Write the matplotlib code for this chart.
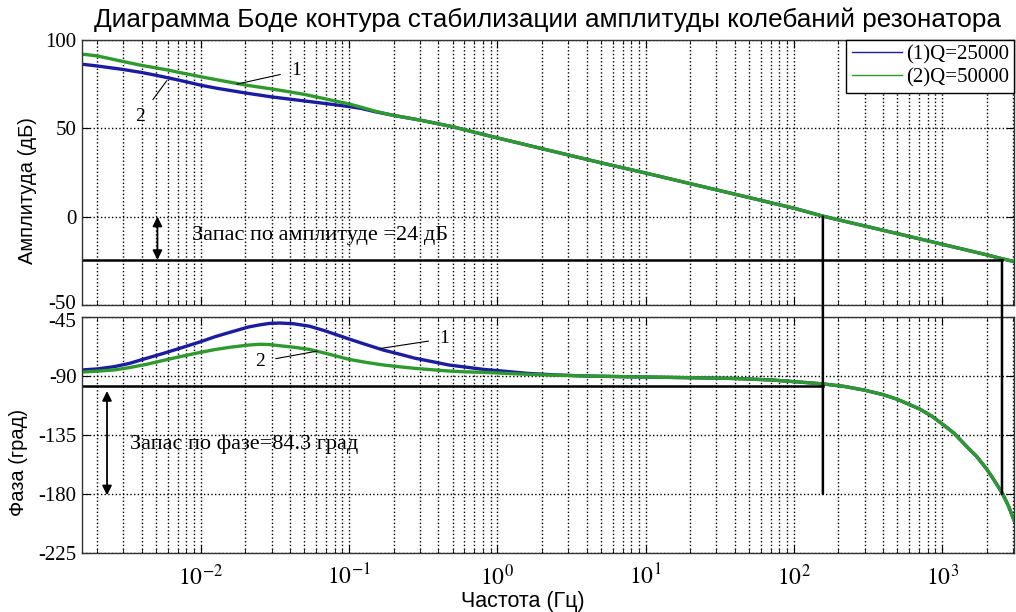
import matplotlib
matplotlib.use("Agg")
import matplotlib.pyplot as plt
from matplotlib.patches import ConnectionPatch
from matplotlib.ticker import LogLocator, FixedLocator, NullFormatter
from matplotlib.transforms import ScaledTranslation

# ---------------- data ----------------
freq_mag = [1.58e-3, 2e-3, 3e-3, 4e-3, 5e-3, 6e-3, 7e-3, 8.5e-3, 1e-2, 1.3e-2,
            1.7e-2, 2e-2, 3e-2, 4e-2, 5e-2, 7e-2, 0.1, 0.12, 0.15, 0.2, 0.3,
            0.5, 0.7, 1, 2, 5, 10, 20, 50, 100, 157, 200, 500, 1000, 2000,
            2535, 3055]
mag_q25 = [86.3, 85.3, 83.3, 81.6, 80.0, 78.6, 77.4, 75.8, 74.4, 72.6,
           71.0, 70.0, 67.8, 66.5, 65.5, 64.0, 62.3, 61.3, 59.4, 57.3, 54.7,
           50.9, 47.8, 44.6, 38.5, 30.5, 24.7, 18.7, 10.8, 4.8, 0.3, -1.8,
           -9.6, -15.6, -21.6, -23.8, -25.4]
mag_q50 = [92.0, 91.0, 87.8, 85.6, 84.2, 83.0, 81.8, 80.4, 79.2, 77.4,
           75.6, 74.5, 72.3, 70.6, 69.2, 66.6, 63.8, 62.0, 59.7, 57.3, 54.7,
           50.9, 47.8, 44.6, 38.5, 30.5, 24.7, 18.7, 10.8, 4.8, 0.3, -1.8,
           -9.6, -15.6, -21.6, -23.8, -25.4]

freq_ph = [1.58e-3, 2e-3, 2.6e-3, 3.3e-3, 4.3e-3, 5.5e-3, 7.2e-3, 1e-2, 1.25e-2,
           1.57e-2, 2.1e-2, 2.5e-2, 2.9e-2, 3.4e-2, 4.2e-2, 5.4e-2, 7e-2, 0.1,
           0.13, 0.17, 0.22, 0.28, 0.37, 0.47, 0.6, 0.8, 1.1, 1.6, 2.5, 4, 7,
           10, 20, 40, 70, 100, 157, 220, 300, 400, 500, 700, 850, 1000, 1200,
           1500, 1700, 2000, 2200, 2535, 2800, 3055]
ph_q25 = [-85.4, -84.6, -82.9, -80.4, -76.5, -73.0, -68.9, -63.8, -60.0,
          -56.7, -52.6, -51.0, -49.9, -49.6, -50.1, -52.0, -55.8, -61.8,
          -66.0, -70.2, -73.4, -76.5, -79.2, -81.6, -83.1, -84.9, -86.3,
          -88.0, -89.2, -90.0, -90.5, -90.8, -91.3, -91.9, -93.0, -94.3,
          -96.0, -98.0, -100.8, -104.2, -107.8, -115.0, -120.5, -126.5,
          -133.5, -145.0, -151.0, -161.0, -168.0, -179.0, -189.0, -200.0]
ph_q50 = [-87.0, -86.3, -85.4, -83.6, -81.1, -78.3, -75.3, -71.9, -69.8,
          -68.1, -66.4, -65.8, -66.0, -66.9, -68.0, -69.7, -72.8, -77.3,
          -79.6, -81.6, -83.0, -84.2, -85.3, -86.2, -86.8, -87.2, -87.9,
          -88.7, -89.4, -90.0, -90.5, -90.8, -91.3, -91.9, -93.0, -94.3,
          -96.0, -98.0, -100.8, -104.2, -107.8, -115.0, -120.5, -126.5,
          -133.5, -145.0, -151.0, -161.0, -168.0, -179.0, -189.0, -200.0]

series_labels = ["(1)Q=25000", "(2)Q=50000"]
title = "Диаграмма Боде контура стабилизации амплитуды колебаний резонатора"
mag_ticks = [-50, 0, 50, 100]
ph_ticks = [-225, -180, -135, -90, -45]
x_ticks = [1e-2, 1e-1, 1e0, 1e1, 1e2, 1e3]
x_ticklabels = [r"$10^{-2}$", r"$10^{-1}$", r"$10^{0}$", r"$10^{1}$", r"$10^{2}$", r"$10^{3}$"]

# margins
f_gain_cross = 157
f_phase_cross = 2535
gm_level = -24.5
pm_level = -98
phase_floor = -180
gm_text = "Запас по амплитуде =24 дБ"
pm_text = "Запас по фазе=84.3 град"

# ---------------- style ----------------
BLUE = "#1c1ca0"
GREEN = "#2e9a2e"
SERIF = ["Liberation Serif", "DejaVu Serif"]
SANS = ["Liberation Sans", "DejaVu Sans"]
plt.rcParams["mathtext.fontset"] = "stix"
plt.rcParams["axes.unicode_minus"] = False

fig = plt.figure(figsize=(10.16, 6.12), dpi=100)
W, H = 1016, 612
def rect(l, t, r, b):
    return [l / W, 1 - b / H, (r - l) / W, (b - t) / H]

ax1 = fig.add_axes(rect(82, 40, 1014, 305))
ax2 = fig.add_axes(rect(82, 317, 1014, 553))

xmin, xmax = 1.58e-3, 3055

for ax in (ax1, ax2):
    ax.set_xscale("log")
    ax.set_xlim(xmin, xmax)
    ax.xaxis.set_major_locator(FixedLocator(x_ticks))
    ax.xaxis.set_minor_locator(LogLocator(base=10, subs=range(2, 10), numticks=20))
    ax.xaxis.set_minor_formatter(NullFormatter())
    ax.grid(True, which="major", color="black", linestyle=":", linewidth=1.0)
    ax.grid(True, which="minor", axis="x", color="black", linestyle=":", linewidth=1.0)
    ax.tick_params(which="both", direction="in", top=True, right=True,
                   labelsize=15, pad=4)
    ax.tick_params(which="major", length=6)
    ax.tick_params(which="minor", length=3)
    for s in ax.spines.values():
        s.set_color("#333333")
        s.set_linewidth(1.0)

# magnitude
ax1.plot(freq_mag, mag_q25, color=BLUE, lw=2.4, label=series_labels[0])
ax1.plot(freq_mag, mag_q50, color=GREEN, lw=2.4, label=series_labels[1])
ax1.set_ylim(-50, 100)
ax1.set_yticks(mag_ticks)
ax1.set_yticklabels([str(v) for v in mag_ticks])
ax1.set_xticklabels([])

# phase
ax2.plot(freq_ph, ph_q25, color=BLUE, lw=2.4)
ax2.plot(freq_ph, ph_q50, color=GREEN, lw=2.4)
ax2.set_ylim(-225, -45)
ax2.set_yticks(ph_ticks)
ax2.set_yticklabels([str(v) for v in ph_ticks])
ax2.set_xticks(x_ticks)
ax2.set_xticklabels(x_ticklabels)
ax2.tick_params(axis="x", which="major", labelsize=17, pad=8)

for ax in (ax1, ax2):
    for lab in ax.get_yticklabels():
        lab.set_family(SERIF)

# keep the adjoining "-50" and "-45" labels apart a little
lab_m50 = ax1.yaxis.get_major_ticks()[0].label1
lab_m50.set_transform(lab_m50.get_transform() + ScaledTranslation(0, 3 / 100, fig.dpi_scale_trans))
lab_m45 = ax2.yaxis.get_major_ticks()[-1].label1
lab_m45.set_transform(lab_m45.get_transform() + ScaledTranslation(0, -3 / 100, fig.dpi_scale_trans))

# margin lines
ax1.plot([xmin, f_phase_cross], [gm_level, gm_level], color="black", lw=1.8)
ax2.plot([xmin, f_gain_cross], [pm_level, pm_level], color="black", lw=1.8)
for f, y0 in ((f_gain_cross, 0), (f_phase_cross, gm_level)):
    con = ConnectionPatch(xyA=(f, y0), coordsA=ax1.transData,
                          xyB=(f, phase_floor), coordsB=ax2.transData,
                          color="black", lw=1.8)
    fig.add_artist(con)

# arrows
ax1.annotate("", xy=(5.1e-3, 0), xytext=(5.1e-3, gm_level),
             arrowprops=dict(arrowstyle="<|-|>", color="black", lw=1.3,
                             mutation_scale=14, shrinkA=0, shrinkB=0))
ax2.annotate("", xy=(2.33e-3, -101.5), xytext=(2.33e-3, -181),
             arrowprops=dict(arrowstyle="<|-|>", color="black", lw=1.3,
                             mutation_scale=14, shrinkA=0, shrinkB=0))
ax1.text(8.7e-3, -10.8, gm_text, family=SERIF, fontsize=16, va="center", ha="left")
ax2.text(3.33e-3, -142, pm_text, family=SERIF, fontsize=16, va="center", ha="left")

# curve labels with leader lines
def leader(ax, text, xy, xytext):
    ax.annotate(text, xy=xy, xytext=xytext, family=SERIF, fontsize=14,
                ha="center", va="center",
                arrowprops=dict(arrowstyle="-", color="black", lw=0.8,
                                shrinkA=6, shrinkB=0))

leader(ax1, "1", (0.0175, 75.0), (0.044, 82.5))
leader(ax1, "2", (5.9e-3, 77.0), (3.9e-3, 56.5))
leader(ax2, "1", (0.163, -69.0), (0.44, -61.5))
leader(ax2, "2", (0.061, -71.0), (0.025, -79.0))

# legend
leg = ax1.legend(loc="upper right", prop={"family": SERIF, "size": 15},
                 handlelength=2.4, borderaxespad=0, fancybox=False,
                 framealpha=1, edgecolor="black", borderpad=0.25,
                 labelspacing=0.15, handletextpad=0.2)
for line in leg.get_lines():
    line.set_linewidth(1.0)

# titles / labels
fig.text(547 / W, 1 - 20 / H, title, family=SANS, fontsize=18.8, ha="center", va="center")
fig.text(28 / W, 1 - 191 / H, "Амплитуда (дБ)", family=SANS, fontsize=14.5,
         rotation=90, ha="center", va="center")
fig.text(19 / W, 1 - 462 / H, "Фаза (град)", family=SANS, fontsize=14.5,
         rotation=90, ha="center", va="center")
fig.text(523 / W, 1 - 601 / H, "Частота (Гц)", family=SANS, fontsize=15.5,
         ha="center", va="center")

fig.savefig("out.png", dpi=100, facecolor="white")
